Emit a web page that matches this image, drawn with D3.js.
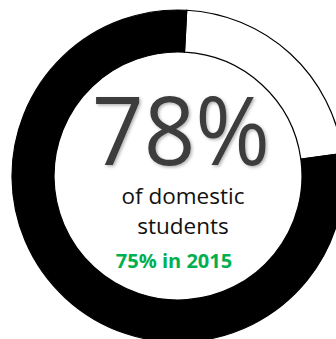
<!DOCTYPE html>
<html>
<head>
<meta charset="utf-8">
<script src="https://cdn.jsdelivr.net/npm/d3@7"></script>
<style>
  html, body { margin: 0; padding: 0; background: #fff; }
  svg { display: block; }
</style>
</head>
<body>
<svg id="chart" width="336" height="339"></svg>
<script>
// share of students, white slice first (clockwise from top)
const segments = ['other', 'domestic']
const shares = [22, 78]
const headline = '78%'
const subLines = ['of domestic', 'students']
const previous = '75% in 2015'

const cx = 178, cy = 176
const outerR = 166, innerR = 124
const rotate = 3 * Math.PI / 180

const svg = d3.select('#chart')
const g = svg.append('g').attr('transform', `translate(${cx},${cy})`)

const colour = d3.scaleOrdinal().domain(segments).range(['#ffffff', '#000000'])

const pie = d3.pie().sort(null).value(d => d.v)
  .startAngle(rotate).endAngle(rotate + 2 * Math.PI)
const arc = d3.arc().innerRadius(innerR).outerRadius(outerR)

g.selectAll('path')
  .data(pie(segments.map((s, i) => ({ s, v: shares[i] }))))
  .join('path')
  .attr('d', arc)
  .attr('fill', d => colour(d.data.s))
  .attr('stroke', '#000')
  .attr('stroke-width', 1.2)

const defs = svg.append('defs')
const f = defs.append('filter').attr('id', 'shadow').attr('x', '-10%').attr('y', '-10%').attr('width', '130%').attr('height', '130%')
f.append('feDropShadow').attr('dx', 1.5).attr('dy', 1.5).attr('stdDeviation', 1.5).attr('flood-color', '#000').attr('flood-opacity', 0.3)

const text = svg.append('g').attr('font-family', '"Open Sans", sans-serif').attr('text-anchor', 'middle')

text.append('text')
  .attr('x', 181).attr('y', 165)
  .attr('font-size', 96).attr('font-weight', 400)
  .attr('fill', '#3c3c3c')
  .attr('filter', 'url(#shadow)')
  .attr('textLength', 178).attr('lengthAdjust', 'spacingAndGlyphs')
  .text(headline)

text.selectAll('text.sub')
  .data(subLines)
  .join('text')
  .attr('class', 'sub')
  .attr('x', 183)
  .attr('y', (d, i) => 204 + i * 30)
  .attr('font-size', 22.5)
  .attr('fill', '#111')
  .text(d => d)

text.append('text')
  .attr('x', 174).attr('y', 268)
  .attr('font-size', 20).attr('font-weight', 700)
  .attr('fill', '#00b050')
  .text(previous)
</script>
</body>
</html>
